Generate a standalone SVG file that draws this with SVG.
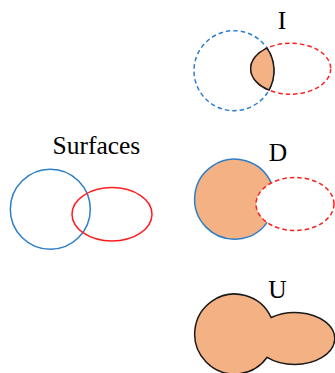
<svg xmlns="http://www.w3.org/2000/svg" width="335" height="373" viewBox="0 0 335 373">
<style>
.lbl{font-family:"Liberation Serif","Times New Roman",serif;font-size:25.5px;fill:#000}
.blue{fill:none;stroke:#2E7EC8;stroke-width:1.5}
.red{fill:none;stroke:#FF1E1E;stroke-width:1.5}
.dash{stroke-dasharray:4.5 3}
.fillo{fill:#F4B183}
.blk{stroke:#1a1a1a;stroke-width:1.5}
</style>
<rect width="335" height="373" fill="#fff"/>
<g id="surfaces">
<text class="lbl" x="52.5" y="154">Surfaces</text>
<circle class="blue" cx="50.3" cy="209.2" r="40"/>
<ellipse class="red" cx="112" cy="214.3" rx="40" ry="26.7"/>
</g>
<g id="intersection">
<text class="lbl" x="282" y="29" text-anchor="middle">I</text>
<circle class="blue dash" cx="234" cy="70.7" r="40"/>
<ellipse class="red dash" cx="290.7" cy="68.7" rx="40" ry="25.5"/>
<path class="fillo blk" d="M267 48.1A40 40 0 0 1 269 90.1A40 25.5 0 0 1 267 48.1Z"/>
</g>
<g id="difference">
<text class="lbl" x="278" y="160.7" text-anchor="middle">D</text>
<path class="fillo" d="M271.2 183A40 40 0 1 0 267.2 222.4A39 26.5 0 0 1 271.2 183Z"/>
<path class="blue" d="M271.2 183A40 40 0 1 0 267.2 222.4"/>
<ellipse class="red dash" cx="295" cy="204" rx="39" ry="26.5"/>
</g>
<g id="union">
<text class="lbl" x="277.5" y="298.3" text-anchor="middle">U</text>
<path class="fillo blk" d="M271.1 317.5A40 40 0 1 0 267.2 357.3A40 26 0 1 0 271.1 317.5Z"/>
</g>
</svg>
